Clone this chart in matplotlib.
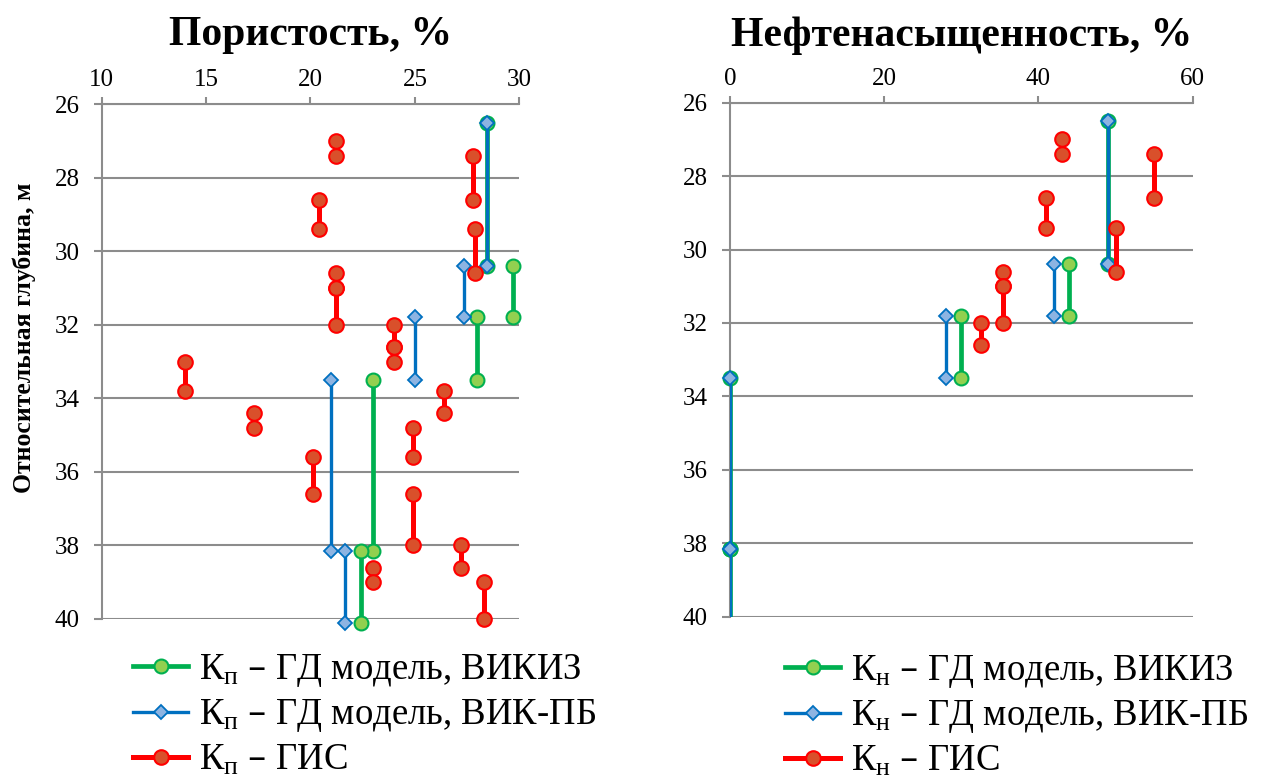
import numpy as np
import matplotlib
matplotlib.use("Agg")
import matplotlib.pyplot as plt

plt.rcParams['font.family'] = ['Liberation Serif', 'DejaVu Serif']

# ---------------- data ----------------
# model layer boundaries (depth, m)
model_depths = [26.5, 30.4, 31.8, 33.5, 38.15, 40.1]
por_vikiz = [28.45, 29.7, 27.95, 23.0, 22.4]
por_vikpb = [28.45, 27.35, 25.0, 21.0, 21.65]
sat_vikiz = [49, 44, 30, 0, 0]
sat_vikpb = [49, 42, 28, 0, 0]

# log (ГИС) layer boundaries
gis_depths = [27.0, 27.4, 28.6, 29.4, 30.6, 31.0, 32.0, 32.6, 33.0, 33.8,
              34.4, 34.8, 35.6, 36.6, 38.0, 38.6, 39.0, 40.0]
por_gis = [21.2, 27.8, 20.4, 27.9, 21.2, 21.2, 24.0, 24.0, 14.0, 26.4,
           17.3, 24.9, 20.1, 24.9, 27.2, 23.0, 28.3]
sat_gis_depths = [27.0, 27.4, 28.6, 29.4, 30.6, 31.0, 32.0, 32.6]
sat_gis = [43, 55, 41, 50, 35.4, 35.4, 32.6]

por_xticks = [10, 15, 20, 25, 30]
sat_xticks = [0, 20, 40, 60]
depth_ticks = [26, 28, 30, 32, 34, 36, 38, 40]

labels_por = ["К$\\mathregular{_п}$ – ГД модель, ВИКИЗ",
              "К$\\mathregular{_п}$ – ГД модель, ВИК-ПБ",
              "К$\\mathregular{_п}$ – ГИС"]
labels_sat = ["К$\\mathregular{_н}$ – ГД модель, ВИКИЗ",
              "К$\\mathregular{_н}$ – ГД модель, ВИК-ПБ",
              "К$\\mathregular{_н}$ – ГИС"]

# ---------------- styles ----------------
GREEN = dict(color='#00B050', lw=3.4, marker='o', ms=10, mfc='#92D050', mec='#00B050', mew=1.5)
BLUE = dict(color='#0070C0', lw=2.4, marker='D', ms=7, mfc='#8DB4E2', mec='#0070C0', mew=1.3)
RED = dict(color='#FF0000', lw=3.6, marker='o', ms=10.5, mfc='#D9502B', mec='#FF0000', mew=1.5)
GRID = '#8C8C8C'


def segs(depths, vals):
    xs, ys = [], []
    for i, v in enumerate(vals):
        xs += [v, v, np.nan]
        ys += [depths[i], depths[i + 1], np.nan]
    return np.array(xs, float), np.array(ys, float)


fig = plt.figure(figsize=(12.66, 7.78), dpi=100)
axL = fig.add_axes([0.0803, 0.2044, 0.3299, 0.6616])
axR = fig.add_axes([0.5766, 0.2073, 0.3655, 0.6607])


def style(ax, xlim, xticks, title, tpad):
    ax.set_xlim(*xlim)
    ax.set_ylim(40, 26)
    ax.set_xticks(xticks)
    ax.set_yticks(depth_ticks)
    ax.xaxis.tick_top()
    ax.tick_params(axis='x', which='both', top=True, bottom=False, direction='out',
                   length=5, width=1.5, color=GRID, labelsize=18, pad=4.5)
    ax.tick_params(axis='y', direction='out', length=6, width=1.5, color=GRID,
                   labelsize=18, pad=10)
    for s in ['right', 'bottom']:
        ax.spines[s].set_visible(False)
    for s in ['left', 'top']:
        ax.spines[s].set_color(GRID)
        ax.spines[s].set_linewidth(1.5)
    ax.yaxis.grid(True, color=GRID, lw=1.5)
    ax.set_axisbelow(True)
    ax.set_title(title, fontsize=30, fontweight='bold', pad=tpad)


style(axL, (10, 30), por_xticks, "Пористость, %", 43)
style(axR, (0, 60), sat_xticks, "Нефтенасыщенность, %", 41)
axL.set_ylabel("Относительная глубина, м", fontsize=18.5, fontweight='bold')
axL.yaxis.set_label_coords(-0.157, 0.547)

# left panel
x, y = segs(model_depths, por_vikiz)
h1, = axL.plot(x, y, clip_on=False, zorder=3, **GREEN)
x, y = segs(model_depths, por_vikpb)
h2, = axL.plot(x, y, clip_on=False, zorder=4, **BLUE)
x, y = segs(gis_depths, por_gis)
h3, = axL.plot(x, y, clip_on=False, zorder=5, **RED)

# right panel (markers beyond the depth range are not shown)
for vals, st, z in [(sat_vikiz, GREEN, 3), (sat_vikpb, BLUE, 4)]:
    x, y = segs(model_depths, vals)
    axR.plot(x, y, clip_on=True, zorder=z, **{k: v for k, v in st.items() if k in ('color', 'lw')})
    keep = (y <= 40)
    axR.plot(x[keep], y[keep], ls='none', clip_on=False, zorder=z + 0.5,
             **{k: v for k, v in st.items() if k not in ('color', 'lw')})
x, y = segs(sat_gis_depths, sat_gis)
axR.plot(x, y, clip_on=False, zorder=5, **RED)

legkw = dict(loc='upper left', frameon=False, fontsize=26.5, handlelength=1.5,
             handletextpad=0.3, labelspacing=0.23, borderpad=0, borderaxespad=0)
axL.legend([h1, h2, h3], labels_por, bbox_to_anchor=(133 / 1266, 1 - 652 / 778),
           bbox_transform=fig.transFigure, **legkw)
axR.legend([h1, h2, h3], labels_sat, bbox_to_anchor=(785 / 1266, 1 - 653 / 778),
           bbox_transform=fig.transFigure, **legkw)

fig.savefig("out.png", dpi=100)
